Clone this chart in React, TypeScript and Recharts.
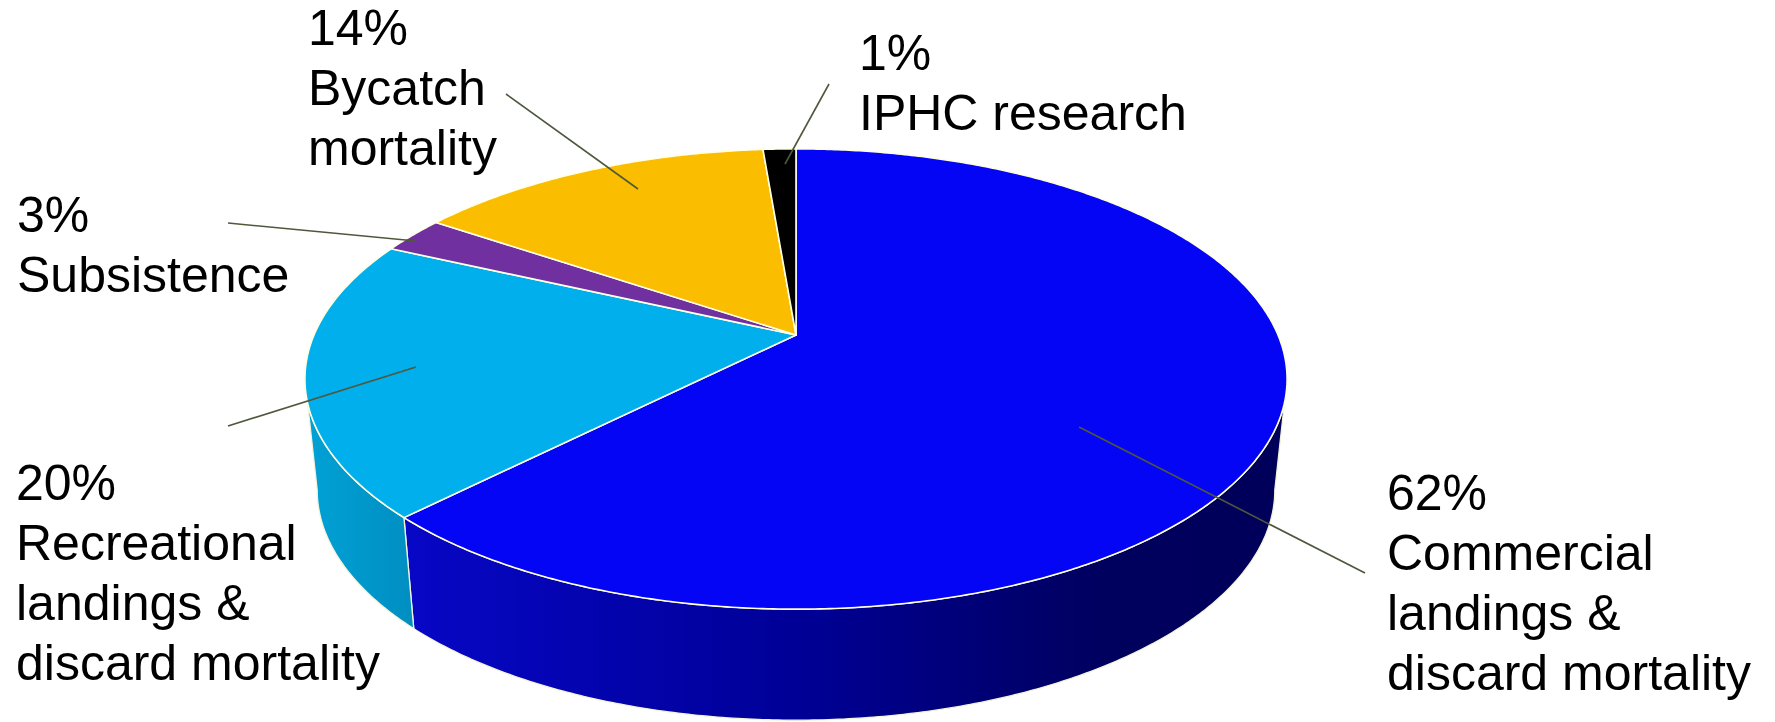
import React from 'react';
import { PieChart, Pie } from 'recharts';

// label text, one entry per slice (clockwise from 12 o'clock)
const categoryLines = [
  ['Commercial', 'landings &', 'discard mortality'],
  ['Recreational', 'landings &', 'discard mortality'],
  ['Subsistence'],
  ['Bycatch', 'mortality'],
  ['IPHC research'],
];
const shares = [62.4, 19.5, 2.6, 14.2, 1.3];

const topColors = ['#0505F5', '#00AFEB', '#7030A0', '#FABD00', '#000000'];
const wallStops: [string, string][][] = [
  [['0', '#0707C6'], ['0.45', '#000096'], ['0.8', '#00005E'], ['1', '#00005A']],
  [['0', '#00A2D6'], ['1', '#008EC2']],
  [['0', '#5A2080'], ['1', '#4A1A70']],
  [['0', '#D09A00'], ['1', '#B08000']],
  [['0', '#000000'], ['1', '#000000']],
];

// where each label sits (first baseline) and its leader line
const labelLayout = [
  { x: 1387, y: 510, from: [1079, 427], to: [1365, 573] },
  { x: 16, y: 500, from: [416, 367], to: [228, 426] },
  { x: 17, y: 232, from: [416, 241], to: [228, 223] },
  { x: 308, y: 45, from: [638, 189], to: [506, 94] },
  { x: 859, y: 70, from: [785, 164], to: [829, 84] },
];

const data = categoryLines.map((lines, i) => ({ name: lines.join(' '), value: shares[i], idx: i }));

// 3d look: tilted disc with a bit of perspective
const TILT = 0.46;
const PERSP = 0.1913;
const DEPTH = 111;
const SHRINK = 0.975;
const SIL_R = (Math.acos(-PERSP) * 180) / Math.PI;
const SIL_L = 360 - SIL_R;

function project(cx: number, cy: number, R: number, theta: number) {
  const t = (theta * Math.PI) / 180;
  const u = Math.sin(t);
  const v = -Math.cos(t);
  const d = 1 - PERSP * v;
  return [cx + (R * u) / d, cy + (R * TILT * v) / d];
}

function arcPoints(cx: number, cy: number, R: number, a: number, b: number) {
  const n = Math.max(2, Math.ceil(Math.abs(b - a) / 0.5));
  const pts: number[][] = [];
  for (let i = 0; i <= n; i++) pts.push(project(cx, cy, R, a + ((b - a) * i) / n));
  return pts;
}

const toPath = (pts: number[][]) =>
  pts.map((p, i) => `${i === 0 ? 'M' : 'L'}${p[0].toFixed(2)},${p[1].toFixed(2)}`).join(' ') + ' Z';

const getIdx = (props: any) => props.payload?.idx ?? props.idx ?? props.index ?? 0;

function TopSlice(props: any) {
  const { cx, cy, outerRadius, startAngle, endAngle } = props;
  const idx = getIdx(props);
  const pts = [[cx, cy], ...arcPoints(cx, cy, outerRadius, 90 - startAngle, 90 - endAngle)];
  return (
    <path d={toPath(pts)} fill={topColors[idx]} stroke="#FFFFE4" strokeWidth={1.6} strokeLinejoin="round" />
  );
}

function WallSlice(props: any) {
  const { cx, cy, outerRadius, startAngle, endAngle } = props;
  const idx = getIdx(props);
  const lo = Math.max(90 - startAngle, SIL_R);
  const hi = Math.min(90 - endAngle, SIL_L);
  if (hi <= lo) return <g />;
  const top = arcPoints(cx, cy, outerRadius, lo, hi);
  const bottom = top.map(([x, y]) => [cx + (x - cx) * SHRINK, y + DEPTH]).reverse();
  const gid = `wall-grad-${idx}`;
  return (
    <g>
      <defs>
        <linearGradient id={gid} x1="0" y1="0" x2="1" y2="0">
          {wallStops[idx].map(([o, c]) => (
            <stop key={o} offset={o} stopColor={c} />
          ))}
        </linearGradient>
      </defs>
      <path d={toPath([...top, ...bottom])} fill={`url(#${gid})`} stroke="#F4F4DC" strokeWidth={1.3} strokeLinejoin="round" />
    </g>
  );
}

function renderLabel(props: any) {
  const idx = getIdx(props);
  const lay = labelLayout[idx];
  return (
    <g key={`label-${idx}`}>
      <line x1={lay.from[0]} y1={lay.from[1]} x2={lay.to[0]} y2={lay.to[1]} stroke="#4E583C" strokeWidth={1.6} />
      <text x={lay.x} y={lay.y} fill="#000" fontSize={50} fontFamily="'Liberation Sans', Arial, sans-serif">
        <tspan x={lay.x}>{`${Math.round(shares[idx])}%`}</tspan>
        {categoryLines[idx].map((l, k) => (
          <tspan key={k} x={lay.x} dy={60}>
            {l}
          </tspan>
        ))}
      </text>
    </g>
  );
}

export default function App() {
  return (
    <div style={{ width: 1775, height: 722, background: '#fff' }}>
      <style>{`body{margin:0}`}</style>
      <PieChart width={1775} height={722} margin={{ top: 0, right: 0, bottom: 0, left: 0 }}>
        <Pie
          data={data}
          dataKey="value"
          nameKey="name"
          cx={796}
          cy={335}
          outerRadius={482}
          startAngle={90}
          endAngle={-270}
          isAnimationActive={false}
          shape={WallSlice}
          activeShape={WallSlice}
          inactiveShape={WallSlice}
          label={false}
          labelLine={false}
        />
        <Pie
          data={data}
          dataKey="value"
          nameKey="name"
          cx={796}
          cy={335}
          outerRadius={482}
          startAngle={90}
          endAngle={-270}
          isAnimationActive={false}
          shape={TopSlice}
          activeShape={TopSlice}
          inactiveShape={TopSlice}
          label={renderLabel}
          labelLine={false}
        />
      </PieChart>
    </div>
  );
}
